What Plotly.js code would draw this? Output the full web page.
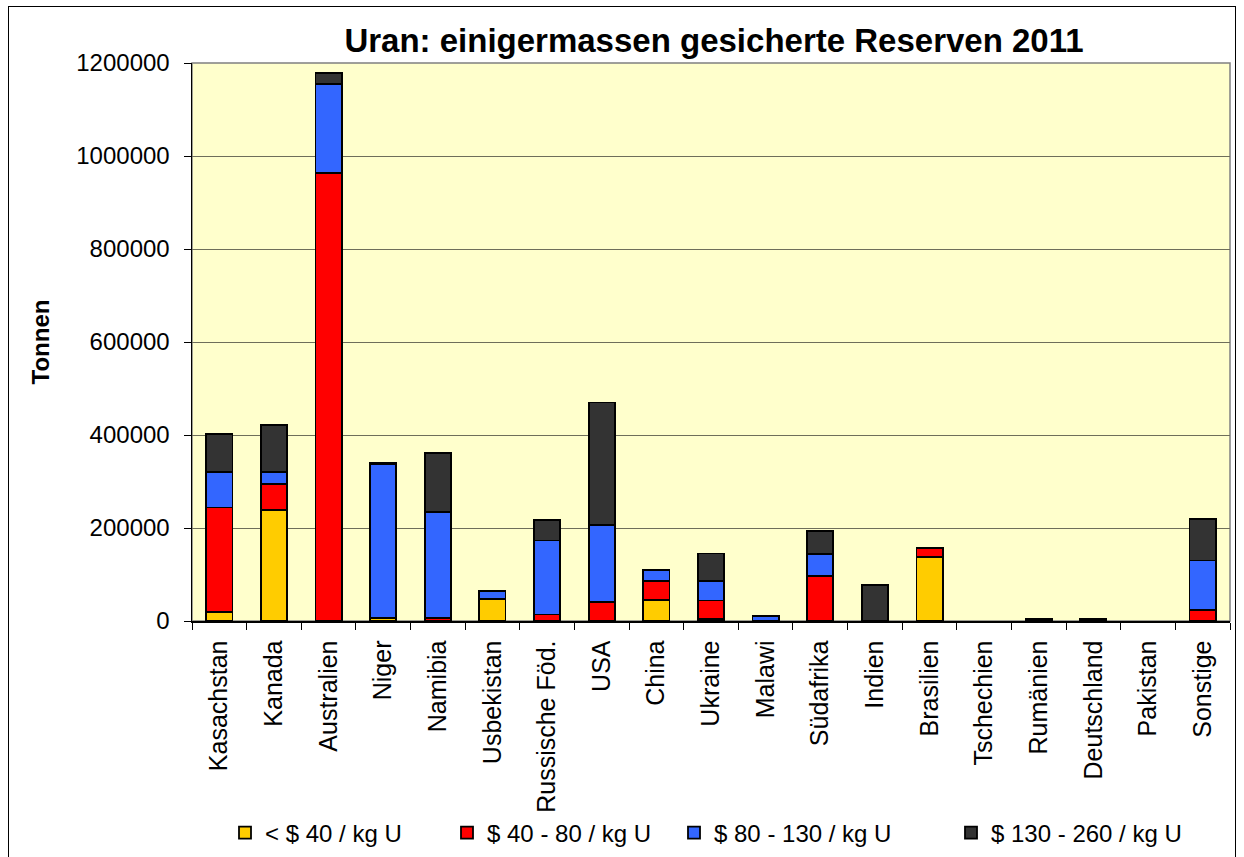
<!DOCTYPE html>
<html>
<head>
<meta charset="utf-8">
<script src="https://cdn.plot.ly/plotly-3.0.1.min.js"></script>
<style>
  html, body { margin: 0; padding: 0; background: #ffffff; overflow: hidden; }
  #chart { width: 1244px; height: 857px; }
  #frame { position: absolute; left: 8px; top: 6px; width: 1228px; height: 870px;
           border: 1.5px solid #000; pointer-events: none; box-sizing: border-box; }
</style>
</head>
<body>
<div id="chart"></div>
<div id="frame"></div>
<script>
const countries = ["Kasachstan", "Kanada", "Australien", "Niger", "Namibia", "Usbekistan",
  "Russische Föd.", "USA", "China", "Ukraine", "Malawi", "Südafrika", "Indien",
  "Brasilien", "Tschechien", "Rumänien", "Deutschland", "Pakistan", "Sonstige"];

const under40   = [19000, 238000, null, 6000, null, 47000, null, null, 46000, 4000, null, null, null, 137000, null, null, null, null, null];
const usd40_80  = [225000, 56000, 963000, null, 6000, null, 14000, 41000, 40000, 40000, null, 97000, null, 20000, null, null, null, null, 24000];
const usd80_130 = [77000, 26500, 191500, 331000, 228000, 17000, 159000, 166000, 24000, 42000, 11000, 47000, null, null, null, 4000, null, null, 106000];
const usd130_260 = [81000, 101000, 24000, 4000, 127000, null, 45000, 263000, null, 59000, null, 50000, 77000, null, null, null, 4000, null, 90000];

const seriesNames = ["< $ 40 / kg U", "$ 40 - 80 / kg U", "$ 80 - 130 / kg U", "$ 130 - 260 / kg U"];
const seriesColors = ["#FFCC00", "#FF0000", "#3366FF", "#333333"];
const seriesValues = [under40, usd40_80, usd80_130, usd130_260];
const legendIds = ["legend", "legend2", "legend3", "legend4"];
const legendLeftPx = [225, 447, 674, 951];

const traces = seriesValues.map((vals, i) => ({
  type: "bar",
  x: countries,
  y: vals,
  name: seriesNames[i],
  legend: legendIds[i],
  marker: { color: seriesColors[i], line: { color: "#000000", width: 1.8 } },
  hoverinfo: "x+y+name"
}));

const layout = {
  width: 1244,
  height: 857,
  paper_bgcolor: "#ffffff",
  plot_bgcolor: "#FFFFCC",
  barmode: "stack",
  bargap: 0.52,
  margin: { l: 192, r: 14, t: 63, b: 236, pad: 0, autoexpand: false },
  font: { family: "Liberation Sans, Arial, sans-serif", color: "#000000" },
  title: {
    text: "<b>Uran: einigermassen gesicherte Reserven 2011</b>",
    font: { size: 33, family: "Liberation Sans, Arial, sans-serif", color: "#000" },
    xref: "container", x: 714 / 1244, xanchor: "center",
    yref: "container", y: 1 - 40 / 857, yanchor: "middle"
  },
  xaxis: {
    type: "category",
    tickangle: -90,
    ticks: "outside",
    tickson: "boundaries",
    ticklen: 7,
    tickcolor: "#000",
    tickwidth: 1,
    showline: true,
    linecolor: "#000",
    linewidth: 1.5,
    showgrid: false,
    tickfont: { size: 25 },
    ticklabelstandoff: 8
  },
  yaxis: {
    range: [0, 1200000],
    dtick: 200000,
    tickformat: "d",
    ticks: "outside",
    ticklen: 7,
    tickcolor: "#000",
    showline: true,
    linecolor: "#000",
    linewidth: 1.5,
    showgrid: true,
    gridcolor: "#6E6E5A",
    gridwidth: 1,
    zeroline: false,
    tickfont: { size: 24 },
    ticklabelstandoff: 9,
    title: { text: "<b>Tonnen</b>", font: { size: 24 }, standoff: 20 }
  },
  shapes: [{
    type: "rect", xref: "paper", yref: "paper", x0: 0, x1: 1, y0: 0, y1: 1,
    line: { color: "#808080", width: 1.5 }, layer: "below"
  }],
  showlegend: true
};

legendIds.forEach((id, i) => {
  layout[id] = {
    orientation: "h",
    xref: "container", yref: "container",
    x: legendLeftPx[i] / 1244, xanchor: "left",
    y: 1 - 833 / 857, yanchor: "middle",
    font: { size: 24 },
    bgcolor: "rgba(0,0,0,0)",
    itemwidth: 30
  };
});

Plotly.newPlot("chart", traces, layout, { displayModeBar: false, staticPlot: true });
</script>
</body>
</html>
